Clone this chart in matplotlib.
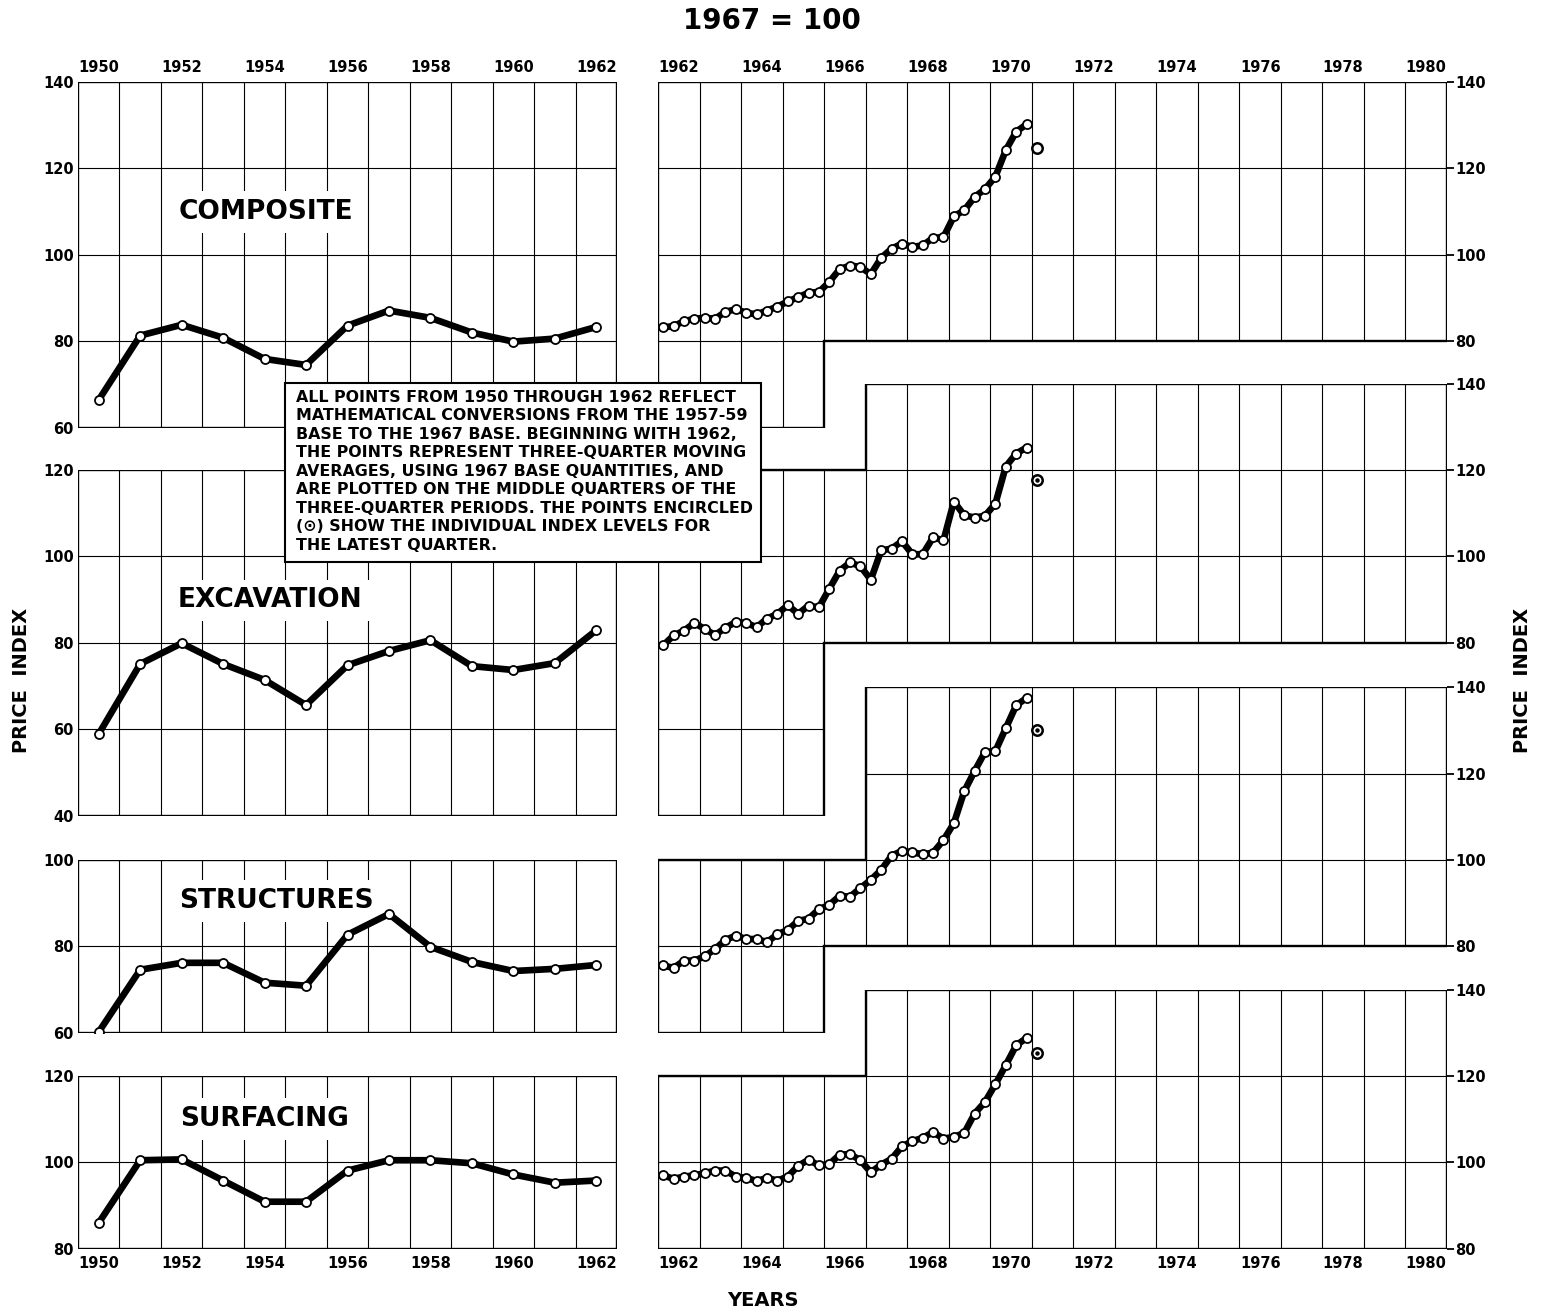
import numpy as np
import matplotlib.pyplot as plt
from matplotlib.patches import Polygon, Rectangle

plt.rcParams['font.family'] = 'DejaVu Sans'
plt.rcParams['font.weight'] = 'bold'

# annual index, 1950-1962 (converted to 1967 base)
years = list(range(1950, 1963))
composite_annual = [66.4, 81.3, 83.8, 80.8, 75.9, 74.5, 83.6, 87.1, 85.4, 82.0, 79.9, 80.6, 83.3]
excavation_annual = [58.9, 75.1, 79.9, 75.1, 71.4, 65.6, 74.8, 78.1, 80.6, 74.6, 73.7, 75.3, 82.9]
structures_annual = [60.2, 74.6, 76.2, 76.2, 71.6, 70.9, 82.7, 87.5, 79.9, 76.4, 74.3, 74.8, 75.7]
surfacing_annual = [86.0, 100.5, 100.7, 95.8, 90.9, 90.9, 98.1, 100.5, 100.5, 99.8, 97.2, 95.3, 95.8]

# three-quarter moving averages, 1962 Q1 - 1970 Q4
composite_q = [83.2, 83.5, 84.6, 85.2, 85.4, 85.2, 86.8, 87.4, 86.6, 86.2, 87.1, 88.0,
               89.2, 90.2, 91.2, 91.4, 93.7, 96.7, 97.5, 97.2, 95.5, 99.3, 101.4, 102.6,
               101.8, 102.2, 103.9, 104.1, 108.9, 110.3, 113.4, 115.2, 118.1, 124.2, 128.5, 130.2]
excavation_q = [79.4, 81.7, 82.8, 84.6, 83.2, 81.8, 83.5, 84.8, 84.6, 83.6, 85.6, 86.7,
                88.7, 86.7, 88.6, 88.2, 92.5, 96.7, 98.6, 97.7, 94.6, 101.4, 101.8, 103.5,
                100.5, 100.5, 104.4, 103.7, 112.7, 109.5, 109.0, 109.4, 112.2, 120.8, 123.8, 125.2]
structures_q = [75.6, 75.0, 76.7, 76.7, 77.7, 79.4, 81.5, 82.5, 81.7, 81.7, 81.0, 82.8,
                83.8, 85.9, 86.4, 88.6, 89.6, 91.7, 91.5, 93.5, 95.4, 97.7, 101.0, 102.1,
                101.8, 101.3, 101.7, 104.6, 108.5, 115.9, 120.6, 125.0, 125.2, 130.5, 135.8, 137.5]
surfacing_q = [97.0, 96.2, 96.7, 97.0, 97.5, 98.1, 98.1, 96.7, 96.4, 95.7, 96.4, 95.8,
               96.7, 99.2, 100.6, 99.3, 99.6, 101.8, 101.9, 100.5, 97.7, 99.5, 100.8, 103.7,
               104.9, 105.7, 107.0, 105.5, 105.9, 106.8, 111.3, 114.0, 118.1, 122.5, 127.1, 128.8]

# latest individual quarter (circled points)
latest = {'COMPOSITE': 124.7, 'EXCAVATION': 117.7, 'STRUCTURES': 130.2, 'SURFACING': 125.4}

note = ("ALL POINTS FROM 1950 THROUGH 1962 REFLECT\n"
        "MATHEMATICAL CONVERSIONS FROM THE 1957-59\n"
        "BASE TO THE 1967 BASE. BEGINNING WITH 1962,\n"
        "THE POINTS REPRESENT THREE-QUARTER MOVING\n"
        "AVERAGES, USING 1967 BASE QUANTITIES, AND\n"
        "ARE PLOTTED ON THE MIDDLE QUARTERS OF THE\n"
        "THREE-QUARTER PERIODS. THE POINTS ENCIRCLED\n"
        "(\u2299) SHOW THE INDIVIDUAL INDEX LEVELS FOR\n"
        "THE LATEST QUARTER.")

W, H = 1544, 1315
PX = 4.32  # pixels per index point
fig = plt.figure(figsize=(W / 100, H / 100), dpi=100)

# x positions: year Y covers [Y, Y+1]
x_annual = np.array(years) + 0.5
x_q = 1962 + (np.arange(len(composite_q)) + 0.5) / 4
x_latest = 1962 + (len(composite_q) + 0.5) / 4

panels = [
    # name, annual, quarterly, top px of left panel, left ylim, label pos, right outline, right ymin
    ('COMPOSITE', composite_annual, composite_q, 82, (60, 140), (1954.53, 110),
     [(1962, 140), (1981, 140), (1981, 80), (1966, 80), (1966, 60), (1962, 60)], 60),
    ('EXCAVATION', excavation_annual, excavation_q, 470, (40, 120), (1954.63, 89.8),
     [(1962, 120), (1967, 120), (1967, 140), (1981, 140), (1981, 80), (1966, 80), (1966, 40), (1962, 40)], 40),
    ('STRUCTURES', structures_annual, structures_q, 860, (60, 100), (1954.78, 90.5),
     [(1962, 100), (1967, 100), (1967, 140), (1981, 140), (1981, 80), (1966, 80), (1966, 60), (1962, 60)], 60),
    ('SURFACING', surfacing_annual, surfacing_q, 1076, (80, 120), (1954.49, 110),
     [(1962, 120), (1967, 120), (1967, 140), (1981, 140), (1981, 80), (1962, 80)], 80),
]


def add_ax(x0, x1, ytop, ylo, yhi):
    ybot = ytop + (yhi - ylo) * PX
    return fig.add_axes([x0 / W, 1 - ybot / H, (x1 - x0) / W, (ybot - ytop) / H])


def frame(ax, outline, xlim, ylim):
    ax.set_xlim(xlim)
    ax.set_ylim(ylim)
    ax.patch.set_visible(False)
    for s in ax.spines.values():
        s.set_visible(False)
    poly = Polygon(outline, closed=True, fill=False, lw=1.7, ec='black', zorder=2)
    ax.add_patch(poly)
    for gx in range(xlim[0] + 1, xlim[1]):
        ln, = ax.plot([gx, gx], ylim, color='black', lw=0.8, zorder=1)
        ln.set_clip_path(poly)
    for gy in range(ylim[0] + 20, ylim[1], 20):
        ln, = ax.plot(xlim, [gy, gy], color='black', lw=0.8, zorder=1)
        ln.set_clip_path(poly)


def draw_series(ax, x, y):
    ax.plot(x, y, color='black', lw=4.8, zorder=4, solid_joinstyle='round', solid_capstyle='round')
    ax.plot(x, y, 'o', ms=6.5, mfc='white', mec='black', mew=1.3, zorder=5)


tick_kw = dict(fontsize=10.5, fontweight='bold')
even_left = [y for y in range(1950, 1963, 2)]
even_right = [y for y in range(1962, 1981, 2)]

for i, (name, ann, qv, top, (lo, hi), lab, outline, rlo) in enumerate(panels):
    # left panel 1950-1962
    axl = add_ax(78, 617, top, lo, hi)
    frame(axl, [(1950, hi), (1963, hi), (1963, lo), (1950, lo)], (1950, 1963), (lo, hi))
    draw_series(axl, x_annual, ann)
    axl.text(lab[0], lab[1], name, ha='center', va='center', fontsize=19, fontweight='bold', zorder=3,
             bbox=dict(boxstyle='square,pad=0.3', fc='white', ec='none'))
    axl.set_yticks(range(lo, hi + 1, 20))
    axl.set_yticklabels([str(v) for v in range(lo, hi + 1, 20)], **tick_kw)
    axl.tick_params(axis='y', length=0, pad=3)

    # right panel 1962-1980
    rtop = top - (140 - hi) * PX
    axr = add_ax(658, 1447, rtop, rlo, 140)
    frame(axr, outline, (1962, 1981), (rlo, 140))
    draw_series(axr, x_q, qv)
    axr.plot([x_latest], [latest[name]], 'o', ms=7.5, mfc='white', mec='black', mew=1.8, zorder=5)
    if name != 'COMPOSITE':
        axr.plot([x_latest], [latest[name]], 'o', ms=2.2, color='black', zorder=6)
    axr.yaxis.tick_right()
    axr.set_yticks([80, 100, 120, 140])
    axr.set_yticklabels(['80', '100', '120', '140'], **tick_kw)
    axr.tick_params(axis='y', length=5, width=1.3, pad=1)

    for ax, evens in ((axl, even_left), (axr, even_right)):
        if i == 0:
            ax.xaxis.tick_top()
        if i in (0, 3):
            ax.set_xticks([y + 0.5 for y in evens])
            ax.set_xticklabels([str(y) for y in evens], **tick_kw)
            ax.tick_params(axis='x', length=0, pad=5)
        else:
            ax.set_xticks([])

fig.text(772 / W, 1 - 21 / H, '1967 = 100', ha='center', va='center', fontsize=20, fontweight='bold')
fig.text(763 / W, 1 - 1300 / H, 'YEARS', ha='center', va='center', fontsize=14, fontweight='bold')
fig.text(22 / W, 1 - 680 / H, 'PRICE  INDEX', ha='center', va='center', rotation=90, fontsize=14, fontweight='bold')
fig.text(1522 / W, 1 - 680 / H, 'PRICE  INDEX', ha='center', va='center', rotation=90, fontsize=14, fontweight='bold')

box = Rectangle((285 / W, 1 - 562 / H), (761 - 285) / W, (562 - 383) / H, transform=fig.transFigure,
                fc='white', ec='black', lw=1.5, zorder=10)
fig.add_artist(box)
fig.text(296 / W, 1 - 390 / H, note, ha='left', va='top', fontsize=11.4, fontweight='bold',
         linespacing=1.29, zorder=11)

fig.savefig('out.png', dpi=100, facecolor='white')
